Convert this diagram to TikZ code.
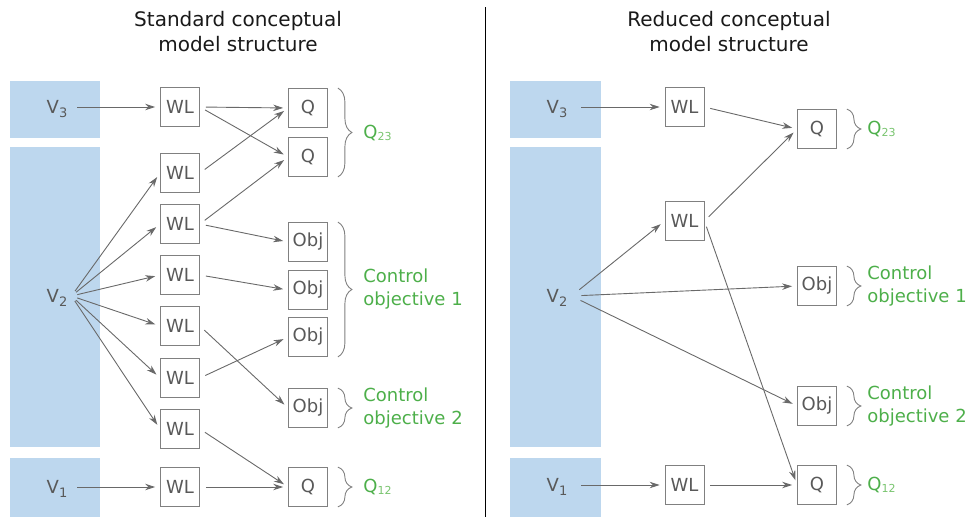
\documentclass[tikz,border=0pt]{standalone}
\usepackage{fontspec}
\setmainfont{DejaVu Sans}
\usetikzlibrary{arrows.meta,decorations.pathreplacing}

\definecolor{barblue}{RGB}{189,215,238}
\definecolor{boxgray}{RGB}{128,128,128}
\definecolor{txtgray}{RGB}{89,89,89}
\definecolor{arrgray}{RGB}{105,105,105}
\definecolor{labgreen}{RGB}{77,175,74}
\definecolor{subgreen}{RGB}{120,196,110}

\newcommand{\vidx}[1]{\raisebox{-4pt}[0pt][0pt]{\fontsize{13}{13}\selectfont #1}}
\newcommand{\qidx}[1]{\raisebox{-2pt}[0pt][0pt]{\fontsize{11}{11}\selectfont\color{subgreen}#1}}

\begin{document}
\begin{tikzpicture}[x=1pt,y=-1pt,
  wlbox/.style={draw=boxgray,line width=0.8pt,minimum width=39pt,minimum height=39pt,inner sep=0pt,text=txtgray,font=\fontsize{18}{18}\selectfont},
  vlabel/.style={inner sep=4pt,text=txtgray,font=\fontsize{18}{18}\selectfont},
  flow/.style={draw=arrgray,line width=0.9pt,-{Stealth[length=10pt,width=6.5pt]},shorten >=5pt,shorten <=6pt},
  grp/.style={draw=boxgray,line width=0.9pt,decorate,decoration={brace,amplitude=14pt}},
  grplabel/.style={anchor=west,inner sep=0pt,xshift=25pt,text=labgreen,align=left,font=\fontsize{18}{23}\selectfont},
  title/.style={anchor=north,align=center,inner sep=0pt,text=black!90,font=\fontsize{20}{25}\selectfont}]
\useasboundingbox (0,0) rectangle (969,517);

\node[title] (stdtitle) at (238,11) {Standard conceptual\\model structure};
\node[title] (redtitle) at (729,11) {Reduced conceptual\\model structure};
\draw[line width=0.8pt] (485,7) -- (485,517);

\fill[barblue] (10,81) rectangle (100,138);
\fill[barblue] (10,147) rectangle (100,447);
\fill[barblue] (10,458) rectangle (100,517);
\fill[barblue] (510,81) rectangle (601,138);
\fill[barblue] (510,147) rectangle (601,447);
\fill[barblue] (510,458) rectangle (601,517);

% standard structure
\node[vlabel] (sv3) at (57,107) {V\vidx{3}};
\node[vlabel] (sv2) at (57,296) {V\vidx{2}};
\node[vlabel] (sv1) at (57,487) {V\vidx{1}};

\node[wlbox] (sw1) at (180,107) {WL};
\node[wlbox] (sw2) at (180,173) {WL};
\node[wlbox] (sw3) at (180,224) {WL};
\node[wlbox] (sw4) at (180,275) {WL};
\node[wlbox] (sw5) at (180,326) {WL};
\node[wlbox] (sw6) at (180,378) {WL};
\node[wlbox] (sw7) at (180,429) {WL};
\node[wlbox] (sw8) at (180,487) {WL};

\node[wlbox] (sq1) at (308,108) {Q};
\node[wlbox] (sq2) at (308,157) {Q};
\node[wlbox] (so1) at (308,242) {Obj};
\node[wlbox] (so2) at (308,290) {Obj};
\node[wlbox] (so3) at (308,337) {Obj};
\node[wlbox] (so4) at (308,408) {Obj};
\node[wlbox] (sq3) at (308,487) {Q};

\draw[flow] (sv3.east) -- (sw1.west);
\draw[flow] (sv1.east) -- (sw8.west);
\draw[flow] (sv2.east) -- (sw2.west);
\draw[flow] (sv2.east) -- (sw3.west);
\draw[flow] (sv2.east) -- (sw4.west);
\draw[flow] (sv2.east) -- (sw5.west);
\draw[flow] (sv2.east) -- (sw6.west);
\draw[flow] (sv2.east) -- (sw7.west);

\draw[flow] (sw1.east) -- (sq1.west);
\draw[flow] (sw1.east) -- (sq2.west);
\draw[flow] (sw2.east) -- (sq1.west);
\draw[flow] (sw3.east) -- (sq2.west);
\draw[flow] (sw3.east) -- (so1.west);
\draw[flow] (sw4.east) -- (so2.west);
\draw[flow] (sw5.east) -- (so4.west);
\draw[flow] (sw6.east) -- (so3.west);
\draw[flow] (sw7.east) -- (sq3.west);
\draw[flow] (sw8.east) -- (sq3.west);

\draw[grp] ([xshift=10pt]sq1.north east) -- node[grplabel] {Q\qidx{23}} ([xshift=10pt]sq2.south east);
\draw[grp] ([xshift=10pt]so1.north east) -- node[grplabel] {Control\\objective 1} ([xshift=10pt]so3.south east);
\draw[grp] ([xshift=10pt]so4.north east) -- node[grplabel] {Control\\objective 2} ([xshift=10pt]so4.south east);
\draw[grp] ([xshift=10pt]sq3.north east) -- node[grplabel] {Q\qidx{12}} ([xshift=10pt]sq3.south east);

% reduced structure
\node[vlabel] (rv3) at (557,107) {V\vidx{3}};
\node[vlabel] (rv2) at (557,296) {V\vidx{2}};
\node[vlabel] (rv1) at (557,485) {V\vidx{1}};

\node[wlbox] (rw1) at (684.5,107) {WL};
\node[wlbox] (rw2) at (684.5,221) {WL};
\node[wlbox] (rw3) at (684.5,485) {WL};

\node[wlbox] (rq1) at (817,129) {Q};
\node[wlbox] (ro1) at (817,286) {Obj};
\node[wlbox] (ro2) at (817,406) {Obj};
\node[wlbox] (rq2) at (817,485) {Q};

\draw[flow,shorten <=10pt] (rv3.east) -- (rw1.west);
\draw[flow,shorten <=10pt] (rv1.east) -- (rw3.west);
\draw[flow,shorten <=10pt] (rv2.east) -- (rw2.west);
\draw[flow,shorten <=10pt] (rv2.east) -- (ro1.west);
\draw[flow,shorten <=10pt] (rv2.east) -- (ro2.west);

\draw[flow] (rw1.east) -- (rq1.west);
\draw[flow] (rw2.east) -- (rq1.west);
\draw[flow] (rw2.east) -- (rq2.west);
\draw[flow] (rw3.east) -- (rq2.west);

\draw[grp] ([xshift=10pt]rq1.north east) -- node[grplabel,xshift=-5pt] {Q\qidx{23}} ([xshift=10pt]rq1.south east);
\draw[grp] ([xshift=10pt]ro1.north east) -- node[grplabel,xshift=-5pt] {Control\\objective 1} ([xshift=10pt]ro1.south east);
\draw[grp] ([xshift=10pt]ro2.north east) -- node[grplabel,xshift=-5pt] {Control\\objective 2} ([xshift=10pt]ro2.south east);
\draw[grp] ([xshift=10pt]rq2.north east) -- node[grplabel,xshift=-5pt] {Q\qidx{12}} ([xshift=10pt]rq2.south east);
\end{tikzpicture}
\end{document}
